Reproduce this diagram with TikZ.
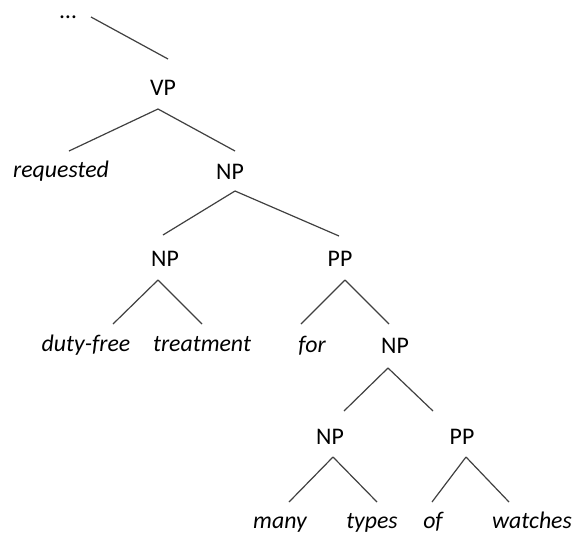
\documentclass[tikz,border=0pt]{standalone}
\usepackage{fontspec}
\setmainfont{Carlito}
\begin{document}
\begin{tikzpicture}[x=1pt,y=-1pt,
  lbl/.style={anchor=base,inner sep=0pt,font=\fontsize{23.8}{28}\selectfont,text=black},
  leaf/.style={lbl,font=\fontsize{23.8}{28}\selectfont\itshape},
  br/.style={draw=black!75,line width=1.2pt}]
\useasboundingbox (0,0) rectangle (573,533);
% labels
\node[lbl] (dots) at (68,18) {…};
\node[lbl] (vp) at (163,95) {VP};
\node[leaf] (req) at (61,177) {requested};
\node[lbl] (np1) at (230,179) {NP};
\node[lbl] (np2) at (165,266) {NP};
\node[lbl] (pp1) at (340,266) {PP};
\node[leaf] (duty) at (86,351) {duty-free};
\node[leaf] (treat) at (202,351) {treatment};
\node[leaf] (for) at (312,352) {for};
\node[lbl] (np3) at (395,353) {NP};
\node[lbl] (np4) at (330,444) {NP};
\node[lbl] (pp2) at (462,444) {PP};
\node[leaf] (many) at (280,528) {many};
\node[leaf] (types) at (372,528) {types};
\node[leaf] (of) at (433,528) {of};
\node[leaf] (watch) at (532,528) {watches};
% branch end points
\coordinate (dots-e) at (91,17);
\coordinate (vp-t) at (168,59);
\coordinate (vp-b) at (158,109);
\coordinate (req-t) at (69,151);
\coordinate (np1-t) at (235,151);
\coordinate (np1-b) at (235,191);
\coordinate (np2-t) at (163,235);
\coordinate (pp1-t) at (339,236);
\coordinate (np2-b) at (158,280);
\coordinate (duty-t) at (113,324);
\coordinate (treat-t) at (202,324);
\coordinate (pp1-b) at (345,280);
\coordinate (for-t) at (301,324);
\coordinate (np3-t) at (389,324);
\coordinate (np3-b) at (388,368);
\coordinate (np4-t) at (344,411);
\coordinate (pp2-t) at (433,411);
\coordinate (np4-b) at (333,457);
\coordinate (many-t) at (289,502);
\coordinate (types-t) at (377,502);
\coordinate (pp2-b) at (466,457);
\coordinate (of-t) at (432,502);
\coordinate (watch-t) at (509,502);
% branches
\draw[br] (dots-e) -- (vp-t);
\draw[br] (vp-b) -- (req-t);
\draw[br] (vp-b) -- (np1-t);
\draw[br] (np1-b) -- (np2-t);
\draw[br] (np1-b) -- (pp1-t);
\draw[br] (np2-b) -- (duty-t);
\draw[br] (np2-b) -- (treat-t);
\draw[br] (pp1-b) -- (for-t);
\draw[br] (pp1-b) -- (np3-t);
\draw[br] (np3-b) -- (np4-t);
\draw[br] (np3-b) -- (pp2-t);
\draw[br] (np4-b) -- (many-t);
\draw[br] (np4-b) -- (types-t);
\draw[br] (pp2-b) -- (of-t);
\draw[br] (pp2-b) -- (watch-t);
\end{tikzpicture}
\end{document}
